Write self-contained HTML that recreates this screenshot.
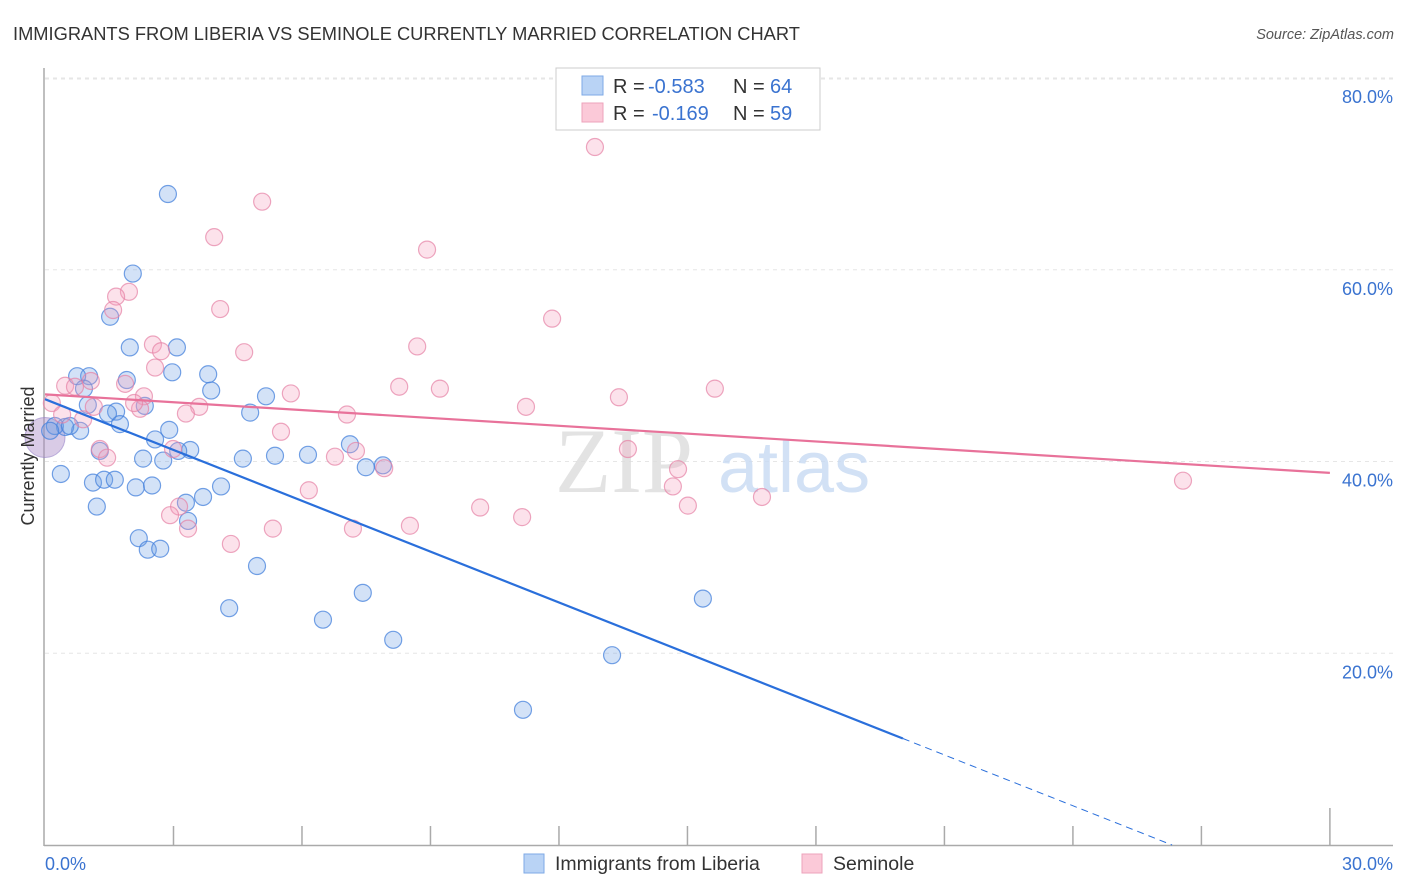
<!DOCTYPE html>
<html><head><meta charset="utf-8"><style>
body{margin:0;background:#fff;font-family:"Liberation Sans",sans-serif}
</style></head><body>
<svg id="chart" width="1406" height="892" xmlns="http://www.w3.org/2000/svg" style="display:block">
<text x="13" y="40" font-size="18.3" fill="#333">IMMIGRANTS FROM LIBERIA VS SEMINOLE CURRENTLY MARRIED CORRELATION CHART</text>
<text x="1394" y="39" font-size="14.5" font-style="italic" fill="#555" text-anchor="end">Source: ZipAtlas.com</text>
<g id="grid"></g>
<text x="555" y="492" font-size="92" font-family="Liberation Serif" fill="#ddd" opacity="0.8">ZIP</text>
<text x="718" y="492" font-size="72" fill="#c8daf3" opacity="0.8">atlas</text>
<g id="pts"></g>
<g id="lines"></g>
<text transform="translate(34,456) rotate(-90)" font-size="18" fill="#333" text-anchor="middle">Currently Married</text>
<g font-size="20">
<rect x="556" y="68" width="264" height="62" fill="#fff" stroke="#ccc"/>
<rect x="582" y="76" width="21" height="19" fill="#b9d3f5" stroke="#7eaae6"/>
<rect x="582" y="103" width="21" height="19" fill="#fbc9d8" stroke="#eea3bb"/>
<text x="613" y="93" fill="#333">R =</text>
<text x="648" y="93" fill="#3a73d0">-0.583</text>
<text x="733" y="93" fill="#333">N =</text>
<text x="770" y="93" fill="#3a73d0">64</text>
<text x="613" y="120" fill="#333">R =</text>
<text x="652" y="120" fill="#3a73d0">-0.169</text>
<text x="733" y="120" fill="#333">N =</text>
<text x="770" y="120" fill="#3a73d0">59</text>
</g>
<g>
<rect x="524" y="854" width="20" height="19" fill="#b9d3f5" stroke="#7eaae6"/>
<text x="555" y="870" font-size="19.5" fill="#333">Immigrants from Liberia</text>
<rect x="802" y="854" width="20" height="19" fill="#fbc9d8" stroke="#eea3bb"/>
<text x="833" y="870" font-size="19.5" fill="#333">Seminole</text>
</g>
</svg>
<script>
const yTicks=[20,40,60,80];
const yTickLabels=["20.0%","40.0%","60.0%","80.0%"];
const xTicks=[0,3,6,9,12,15,18,21,24,27,30];
const blueX=[2.87,2.05,1.52,1.98,3.08,1.03,0.75,1.91,2.97,3.81,3.88,0.91,5.16,1.00,2.33,1.66,1.47,4.79,1.75,0.82,0.47,0.23,0.58,0.12,2.57,2.90,7.12,1.28,3.39,3.11,2.29,2.76,4.62,5.37,6.14,7.49,7.89,0.37,1.12,1.38,1.63,2.12,2.50,4.11,3.29,3.69,1.21,3.34,2.19,2.40,2.69,4.95,7.42,4.30,6.49,8.13,15.36,13.24,11.16];
const blueY=[67.9,59.6,55.1,51.9,51.9,48.9,48.9,48.5,49.3,49.1,47.4,47.6,46.8,45.9,45.8,45.2,45.0,45.1,43.9,43.2,43.6,43.7,43.7,43.2,42.3,43.3,41.8,41.1,41.2,41.1,40.3,40.1,40.3,40.6,40.7,39.4,39.6,38.7,37.8,38.1,38.1,37.3,37.5,37.4,35.7,36.3,35.3,33.8,32.0,30.8,30.9,29.1,26.3,24.7,23.5,21.4,25.7,19.8,14.1];
const pinkX=[12.84,5.07,3.95,8.92,1.96,1.66,1.59,4.09,11.84,2.52,2.71,4.65,8.69,2.57,1.07,0.47,0.70,1.87,2.31,8.27,9.22,5.74,15.64,13.40,3.60,3.29,2.22,2.08,1.14,0.16,0.40,0.89,7.05,11.23,5.51,2.99,7.26,1.28,1.45,6.77,13.61,14.78,7.92,14.66,6.16,16.74,15.01,10.16,11.14,3.13,2.92,8.52,7.19,5.32,3.34,4.34,26.57];
const pinkY=[72.8,67.1,63.4,62.1,57.7,57.2,55.8,55.9,54.9,52.2,51.5,51.4,52.0,49.8,48.4,47.9,47.8,48.1,46.8,47.8,47.6,47.1,47.6,46.7,45.7,45.0,45.5,46.1,45.7,46.1,44.9,44.4,44.9,45.7,43.1,41.3,41.1,41.3,40.4,40.5,41.3,39.2,39.3,37.4,37.0,36.3,35.4,35.2,34.2,35.3,34.4,33.3,33.0,33.0,33.0,31.4,38.0];
const blueTrend=[46.5,-1.767]; // intercept, slope
const pinkTrend=[47.0,-0.273];
const NS="http://www.w3.org/2000/svg";
const X=v=>45+v*42.83, Y=v=>845-v*9.5875;
function mk(t,a,p){const e=document.createElementNS(NS,t);for(const k in a)e.setAttribute(k,a[k]);p.appendChild(e);return e;}
const grid=document.getElementById('grid');
yTicks.forEach((t,i)=>{
 const l=mk('line',{x1:45,x2:1393,y1:Y(t),y2:Y(t),stroke:'#e6e6e6','stroke-dasharray':'4,4'},grid);
 
 
 const tx=mk('text',{x:1393,y:Y(t)+25,'font-size':18,fill:'#3a73d0','text-anchor':'end'},grid);
 tx.textContent=yTickLabels[i];
 
 
});
mk('line',{x1:45,x2:1393,y1:79,y2:79,stroke:'#e6e6e6','stroke-dasharray':'4,4'},grid);
mk('line',{x1:44,x2:44,y1:68,y2:846,stroke:'#aaa','stroke-width':1.5},grid);
mk('line',{x1:44,x2:1393,y1:845.5,y2:845.5,stroke:'#aaa','stroke-width':1.5},grid);
xTicks.forEach((t,i)=>{ if(i===0)return;
 const l=mk('line',{x1:X(t),x2:X(t),y1:i===xTicks.length-1?808:826,y2:845,stroke:'#aaa','stroke-width':1.5},grid);
 
 
});
const x0=mk('text',{x:45,y:870,'font-size':18,fill:'#3a73d0'},grid);x0.textContent='0.0%';


const x1=mk('text',{x:1393,y:870,'font-size':18,fill:'#3a73d0','text-anchor':'end'},grid);x1.textContent='30.0%';


const pts=document.getElementById('pts');
const big=mk('circle',{cx:X(0),cy:Y(42.5),r:20,fill:'rgba(170,140,200,0.45)',stroke:'rgba(150,130,200,0.6)'},pts);


blueX.forEach((v,i)=>{const c=mk('circle',{cx:X(v),cy:Y(blueY[i]),r:8.5,fill:'rgba(110,160,230,0.3)',stroke:'rgba(70,130,220,0.75)','stroke-width':1.2},pts);
 
 });
pinkX.forEach((v,i)=>{const c=mk('circle',{cx:X(v),cy:Y(pinkY[i]),r:8.5,fill:'rgba(245,160,190,0.3)',stroke:'rgba(230,130,165,0.7)','stroke-width':1.2},pts);
 
 });
const lines=document.getElementById('lines');
const bf=x=>blueTrend[0]+blueTrend[1]*x, pf=x=>pinkTrend[0]+pinkTrend[1]*x;
const bl=mk('line',{x1:X(0),y1:Y(bf(0)),x2:X(20.03),y2:Y(bf(20.03)),stroke:'#2a6fdb','stroke-width':2.2},lines);


const xe=-blueTrend[0]/blueTrend[1];
const bd=mk('line',{x1:X(20.03),y1:Y(bf(20.03)),x2:X(xe),y2:Y(0),stroke:'#2a6fdb','stroke-width':1,'stroke-dasharray':'7,5'},lines);


const pl=mk('line',{x1:X(0),y1:Y(pf(0)),x2:X(30),y2:Y(pf(30)),stroke:'#e8729a','stroke-width':2.2},lines);


</script>
</body></html>
